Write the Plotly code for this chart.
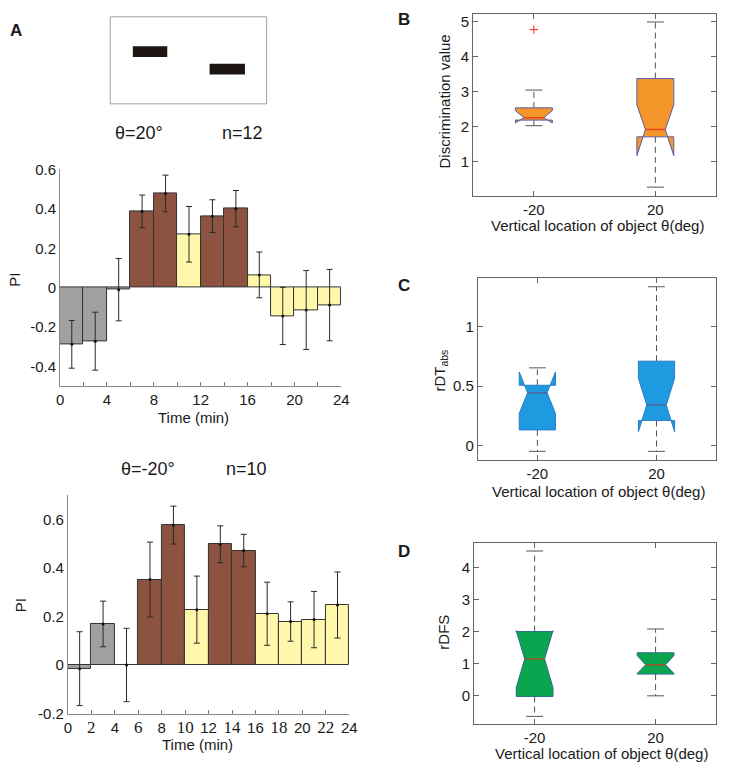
import plotly.graph_objects as go
import numpy as np

W, H = 729, 774

# ---------------- data ----------------
time_ticks = [0, 2, 4, 6, 8, 10, 12, 14, 16, 18, 20, 22, 24]
time_labels_up = [0, 4, 8, 12, 16, 20, 24]
bin_centers = [1, 3, 5, 7, 9, 11, 13, 15, 17, 19, 21, 23]
phase = ['pre', 'pre', 'pre', 'train', 'train', 'test', 'train', 'train',
         'test', 'test', 'test', 'test']

pi_up = [-0.287, -0.271, -0.010, 0.387, 0.478, 0.271, 0.363, 0.401,
         0.065, -0.143, -0.113, -0.088]
err_up = [0.121, 0.147, 0.158, 0.083, 0.093, 0.141, 0.083, 0.092,
          0.116, 0.145, 0.200, 0.181]

pi_down = [-0.015, 0.169, 0.0, 0.352, 0.576, 0.228, 0.497, 0.471,
           0.211, 0.179, 0.187, 0.247]
err_down = [0.152, 0.094, 0.151, 0.154, 0.078, 0.138, 0.076, 0.067,
            0.130, 0.081, 0.116, 0.136]

groups = ['-20', '20']
group_pos = [1, 2]

# panel B: discrimination value
B_wlo = [2.03, 0.27]
B_q1 = [2.19, 1.71]
B_nlo = [2.11, 1.17]
B_med = [2.26, 1.92]
B_nhi = [2.46, 2.63]
B_q3 = [2.54, 3.38]
B_whi = [3.05, 5.00]
B_out_pos = [1]
B_out_val = [4.78]

# panel C: rDT_abs
C_wlo = [-0.046, -0.046]
C_q1 = [0.134, 0.213]
C_nlo = [0.272, 0.118]
C_med = [0.445, 0.342]
C_nhi = [0.620, 0.566]
C_q3 = [0.508, 0.710]
C_whi = [0.654, 1.334]

# panel D: rDFS
D_wlo = [-0.643, 0.0]
D_q1 = [-0.02, 0.68]
D_nlo = [0.255, 0.70]
D_med = [1.153, 0.97]
D_nhi = [2.04, 1.26]
D_q3 = [2.01, 1.347]
D_whi = [4.53, 2.09]

# ---------------- styling ----------------
FONT = "Arial, Liberation Sans, sans-serif"
TXT = "#1a1a1a"
phase_color = {'pre': '#a0a0a0', 'train': '#8b5340', 'test': '#fff7aa'}


def dx(a, b):
    return [a / W, b / W]


def dy(top, bottom):
    return [1 - bottom / H, 1 - top / H]


fig = go.Figure()

# ---- bar charts ----
for pi, err, xa, ya in [(pi_up, err_up, 'x', 'y'), (pi_down, err_down, 'x2', 'y2')]:
    fig.add_trace(go.Bar(
        x=bin_centers, y=pi, width=2,
        marker=dict(color=[phase_color[p] for p in phase],
                    line=dict(color='#333333', width=1)),
        error_y=dict(type='data', array=err, color='#2a2a2a', thickness=1, width=3),
        xaxis=xa, yaxis=ya, showlegend=False))
    fig.add_trace(go.Scatter(
        x=bin_centers, y=pi, mode='markers',
        marker=dict(color='#111111', size=3),
        xaxis=xa, yaxis=ya, showlegend=False))

# ---- box plots ----
HW, IND, CAP = 0.152, 0.082, 0.07


def add_box(xa, ya, wlo, q1, nlo, med, nhi, q3, whi, fill, edge, medc):
    for i, c in enumerate(group_pos):
        fig.add_trace(go.Scatter(x=[c, c], y=[q3[i], whi[i]], mode='lines',
                                 line=dict(color='#555555', width=1, dash='6px,4px'),
                                 xaxis=xa, yaxis=ya, showlegend=False))
        fig.add_trace(go.Scatter(x=[c, c], y=[q1[i], wlo[i]], mode='lines',
                                 line=dict(color='#555555', width=1, dash='6px,4px'),
                                 xaxis=xa, yaxis=ya, showlegend=False))
        for v in (whi[i], wlo[i]):
            fig.add_trace(go.Scatter(x=[c - CAP, c + CAP], y=[v, v], mode='lines',
                                     line=dict(color='#555555', width=1),
                                     xaxis=xa, yaxis=ya, showlegend=False))
        xs = [c - HW, c - HW, c - IND, c - HW, c - HW, c + HW, c + HW, c + IND,
              c + HW, c + HW, c - HW]
        ys = [q1[i], nlo[i], med[i], nhi[i], q3[i], q3[i], nhi[i], med[i],
              nlo[i], q1[i], q1[i]]
        fig.add_trace(go.Scatter(x=xs, y=ys, mode='lines', fill='toself',
                                 fillcolor=fill, line=dict(color=edge, width=1),
                                 xaxis=xa, yaxis=ya, showlegend=False))
        fig.add_trace(go.Scatter(x=[c - IND, c + IND], y=[med[i], med[i]], mode='lines',
                                 line=dict(color=medc, width=1.5),
                                 xaxis=xa, yaxis=ya, showlegend=False))


add_box('x3', 'y3', B_wlo, B_q1, B_nlo, B_med, B_nhi, B_q3, B_whi,
        '#f5962a', '#5a5aa8', '#e8401c')
fig.add_trace(go.Scatter(x=B_out_pos, y=B_out_val, mode='markers',
                         marker=dict(symbol='cross-thin', size=6,
                                     line=dict(color='#ff2020', width=1)),
                         xaxis='x3', yaxis='y3', showlegend=False))
add_box('x4', 'y4', C_wlo, C_q1, C_nlo, C_med, C_nhi, C_q3, C_whi,
        '#1e9be0', '#2b7cc8', '#4a6a9a')
add_box('x5', 'y5', D_wlo, D_q1, D_nlo, D_med, D_nhi, D_q3, D_whi,
        '#0ba54f', '#2a6a8a', '#a0522d')

# ---------------- axes ----------------
tickfont = dict(family=FONT, size=15, color=TXT)
serif = "Liberation Serif, Times New Roman, serif"
down_ticktext = [str(t) if (t // 2) % 2 == 0 else
                 '<span style="font-family:%s;font-size:17px">%d</span>' % (serif, t)
                 for t in time_ticks]

bar_x = dict(range=[0, 24], ticks='inside', ticklen=4,
             tickcolor='#777777', showline=True, linecolor='#888888', linewidth=1,
             showgrid=False, zeroline=False, tickfont=tickfont)
bar_y = dict(showline=True, linecolor='#888888', linewidth=1, ticks='',
             showgrid=False, zeroline=False, tickfont=tickfont)

box_x = dict(range=[0.5, 2.5], tickvals=group_pos, ticktext=groups, ticks='inside',
             ticklen=5, tickcolor='#666666', showline=True, mirror='ticks',
             linecolor='#666666', linewidth=1, showgrid=False, zeroline=False,
             tickfont=tickfont)
box_y = dict(ticks='inside', ticklen=5, tickcolor='#666666', showline=True,
             mirror='ticks', linecolor='#666666', linewidth=1, showgrid=False,
             zeroline=False, tickfont=tickfont)

fig.update_layout(
    width=W, height=H, margin=dict(l=0, r=0, t=0, b=0),
    paper_bgcolor='white', plot_bgcolor='white',
    font=dict(family=FONT, color=TXT),
    bargap=0,
    xaxis=dict(bar_x, domain=dx(57, 343), anchor='y',
               tickvals=time_labels_up, ticktext=[str(t) for t in time_labels_up],
               minor=dict(tickvals=time_ticks, ticks='inside', ticklen=4,
                          tickcolor='#777777')),
    yaxis=dict(bar_y, domain=dy(164, 385.8), anchor='x', range=[-0.5, 0.6],
               tickvals=[-0.4, -0.2, 0, 0.2, 0.4, 0.6],
               ticktext=['-0.4', '-0.2', '0', '0.2', '0.4', '0.6']),
    xaxis2=dict(bar_x, domain=dx(65, 351), anchor='y2',
                tickvals=time_ticks, ticktext=down_ticktext),
    yaxis2=dict(bar_y, domain=dy(496.9, 720.4), anchor='x2', range=[-0.2, 0.7],
                tickvals=[-0.2, 0, 0.2, 0.4, 0.6],
                ticktext=['-0.2', '0', '0.2', '0.4', '0.6']),
    xaxis3=dict(box_x, domain=dx(477, 724), anchor='y3'),
    yaxis3=dict(box_y, domain=dy(4.7, 190.7), anchor='x3', range=[0.03, 5.24],
                tickvals=[1, 2, 3, 4, 5]),
    xaxis4=dict(box_x, domain=dx(481.7, 724), anchor='y4'),
    yaxis4=dict(box_y, domain=dy(274.7, 460.7), anchor='x4', range=[-0.115, 1.41],
                tickvals=[0, 0.5, 1], ticktext=['0', '0.5', '1']),
    xaxis5=dict(box_x, domain=dx(478, 724), anchor='y5'),
    yaxis5=dict(box_y, domain=dy(546, 731), anchor='x5', range=[-0.88, 4.78],
                tickvals=[0, 1, 2, 3, 4]),
)

# ---------------- text ----------------
def note(text, x, y, size=15, bold=False, angle=0):
    fig.add_annotation(text=('<b>%s</b>' % text) if bold else text,
                       x=x / W, y=1 - y / H, xref='paper', yref='paper',
                       xanchor='center', yanchor='middle', showarrow=False,
                       textangle=angle, font=dict(family=FONT, size=size, color=TXT))


note('A', 12, 22, 17, True)
note('B', 407, 11, 17, True)
note('C', 407, 283, 17, True)
note('D', 407, 555, 17, True)

note('θ=20°', 137.5, 127, 18)
note('n=12', 242, 127, 18)
note('θ=-20°', 146.7, 470, 18)
note('n=10', 246.7, 470, 18)

note('PI', 11, 277, 15, angle=-90)
note('Time (min)', 193, 418, 15)
note('PI', 17, 610, 15, angle=-90)
note('Time (min)', 197, 752, 15)

note('Discrimination value', 448, 95, 15, angle=-90)
note('Vertical location of object θ(deg)', 603, 221, 15)
note('rDT<sub>abs</sub>', 444, 370, 15, angle=-90)
note('Vertical location of object θ(deg)', 604, 493, 15)
note('rDFS', 446, 637, 15, angle=-90)
note('Vertical location of object θ(deg)', 607, 761, 15)

# schematic inset (stimulus layout)
fig.add_shape(type='rect', xref='paper', yref='paper',
              x0=108 / W, x1=267 / W, y0=1 - 97 / H, y1=1 - 8 / H,
              line=dict(color='#a0a0a0', width=1), fillcolor='rgba(0,0,0,0)')
for (a, b, c, d) in [(131, 38, 166, 49), (209, 56, 245, 67)]:
    fig.add_shape(type='rect', xref='paper', yref='paper',
                  x0=a / W, x1=c / W, y0=1 - d / H, y1=1 - b / H,
                  line=dict(width=0), fillcolor='#1e1613')

fig.write_html("out.html", config={'displayModeBar': False},
               post_script="document.body.style.margin='0px';"
                           "document.documentElement.style.margin='0px';"
                           "document.body.style.overflow='hidden';")
